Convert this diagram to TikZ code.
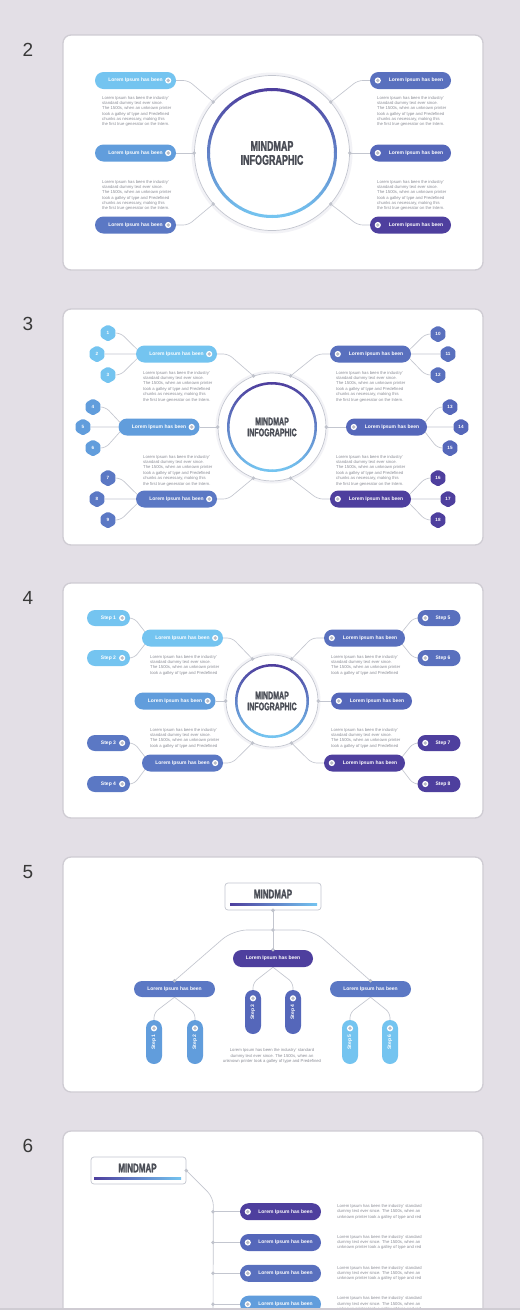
\documentclass[tikz,border=0pt]{standalone}
\usepackage{fontspec}
\setmainfont{Liberation Sans}
\newfontfamily\headfont[FakeStretch=0.64, FakeBold=1.6]{Liberation Sans}
\usepackage{xcolor}
\definecolor{pagebg}{HTML}{E3DFE6}
\definecolor{panelline}{HTML}{CFCCD3}
\definecolor{skyblue}{HTML}{74C4F0}
\definecolor{midblue}{HTML}{619DDC}
\definecolor{steelblue}{HTML}{5B78C4}
\definecolor{slateblue}{HTML}{5970BE}
\definecolor{indigoblue}{HTML}{5567BA}
\definecolor{deeppurple}{HTML}{4E3F9E}
\definecolor{wiregray}{HTML}{C3C6CF}
\definecolor{dotgray}{HTML}{C0C3CC}
\definecolor{icongray}{HTML}{B9BCC6}
\definecolor{desctext}{HTML}{8B8D96}
\definecolor{headtext}{HTML}{4A4D56}
\definecolor{halofill}{HTML}{F2F2F6}
\usetikzlibrary{shapes.misc, shapes.geometric, calc, positioning}
\pgfdeclarelayer{back}
\pgfdeclarelayer{wires}
\pgfsetlayers{back,wires,main}
\newcommand{\loremsix}{Lorem Ipsum has been the industry'\\standard dummy text ever since.\\The 1500s, when an unknown printer\\took a galley of type and Predefined\\chunks as necessary, making this\\the first true generator on the Intern.}
\newcommand{\loremfour}{Lorem Ipsum has been the industry'\\standard dummy text ever since.\\The 1500s, when an unknown printer\\took a galley of type and Predefined}
\newcommand{\loremthree}{Lorem Ipsum has been the industry' standard\\dummy text ever since. The 1500s, when an\\unknown printer took a galley of type and red}
% ring fading from purple (top) to sky blue (bottom): centre, radius, width
\newcommand{\gradring}[3]{%
    \begin{scope}[shift={(#1)}, x=1pt, y=1pt]
        \foreach \a in {0,5,...,355} {
            \pgfmathsetmacro\ringmix{50+50*sin(\a+2.5)}
            \draw[line width=#3, deeppurple!\ringmix!skyblue] (\a:#2) arc[start angle=\a, end angle=\a+5.6, radius=#2];
        }
    \end{scope}}

\begin{document}
\begin{tikzpicture}[x=1pt, y=-1pt,
    panel/.style={draw=panelline, line width=1.3pt, fill=white, rounded corners=8pt},
    pagenum/.style={text=black!78, font=\fontsize{19}{19}\selectfont},
    pill/.style={rounded rectangle, minimum width=81pt, minimum height=17pt, inner sep=0pt, text=white, font=\bfseries\fontsize{5}{5}\selectfont},
    steppill/.style={pill, minimum width=43pt, minimum height=16pt},
    vstep/.style={pill, minimum width=44pt, minimum height=16pt, rotate=90},
    hexbadge/.style={regular polygon, regular polygon sides=6, shape border rotate=30, minimum size=17pt, inner sep=0pt, rounded corners=1.5pt, text=white, font=\bfseries\fontsize{4.6}{5}\selectfont},
    hubring/.style={circle, draw=wiregray, line width=0.7pt, fill=white, inner sep=0pt},
    hubtitle/.style={align=center, text=headtext, inner sep=0pt, font=\headfont\bfseries\fontsize{#1}{#1}\selectfont},
    titlebox/.style={draw=wiregray, line width=0.7pt, fill=white, rounded corners=3pt, minimum width=96pt, minimum height=27pt},
    desc/.style={align=left, text=desctext, inner sep=0pt, font=\fontsize{4.2}{5.35}\selectfont},
    wire/.style={draw=wiregray, line width=0.65pt, rounded corners=5pt},
    jdot/.style={circle, fill=dotgray, inner sep=0pt, minimum size=3.8pt},
    pillicon/.pic={\fill[white] (0,0) circle (3.1pt); \fill[icongray] (0,0) circle (1.9pt);}]

    \useasboundingbox (0,0) rectangle (520,1310);

    % page and panels
    \begin{pgfonlayer}{back}
        \fill[pagebg] (0,0) rectangle (520,1310);
        \draw[panel] (63,35) rectangle (483,270);
        \draw[panel] (63,309) rectangle (483,545);
        \draw[panel] (63,583) rectangle (483,818);
        \draw[panel] (63,857) rectangle (483,1092);
        \draw[panel] (63,1131) rectangle (483,1340);
        \fill[halofill] (272,153) circle (80.5pt);
        \fill[halofill] (272,427) circle (56.5pt);
        \fill[halofill] (272,701) circle (48.5pt);
    \end{pgfonlayer}

    \node[pagenum] (num2) at (28,50) {2};
    \node[pagenum] (num3) at (28,324) {3};
    \node[pagenum] (num4) at (28,598) {4};
    \node[pagenum] (num5) at (28,872) {5};
    \node[pagenum] (num6) at (28,1146) {6};

    % ---- slide 2
    \node[hubring, minimum size=155pt] (hub2) at (272,153) {};
    \gradring{hub2.center}{63.5pt}{3pt}
    \node[hubtitle=14] (title2) at (hub2.center) {MINDMAP\\INFOGRAPHIC};

    \foreach \y/\c [count=\i] in {80.5/skyblue, 153/midblue, 225/steelblue} {
        \node[pill, fill=\c] (p2l\i) at (135.5,\y) {Lorem Ipsum has been\hspace{11pt}};
        \pic at ($(p2l\i.east)+(-8,0)$) {pillicon};
    }
    \foreach \y/\c [count=\i] in {80.5/slateblue, 153/indigoblue, 225/deeppurple} {
        \node[pill, fill=\c] (p2r\i) at (410.5,\y) {\hspace{11pt}Lorem Ipsum has been};
        \pic at ($(p2r\i.west)+(8,0)$) {pillicon};
    }
    \begin{pgfonlayer}{wires}
        \draw[wire] (p2l1.east) -- ++(12,0) -- (hub2.139);
        \draw[wire] (p2l2.east) -- (hub2.west);
        \draw[wire] (p2l3.east) -- ++(12,0) -- (hub2.221);
        \draw[wire] (p2r1.west) -- ++(-12,0) -- (hub2.41);
        \draw[wire] (p2r2.west) -- (hub2.east);
        \draw[wire] (p2r3.west) -- ++(-12,0) -- (hub2.-41);
    \end{pgfonlayer}
    \foreach \a in {139,180,221,41,0,-41} \node[jdot] at (hub2.\a) {};

    \node[desc, anchor=north west] (d2l1) at (102,96) {\loremsix};
    \node[desc, anchor=north west] (d2l2) at (102,180) {\loremsix};
    \node[desc, anchor=north west] (d2r1) at (377,96) {\loremsix};
    \node[desc, anchor=north west] (d2r2) at (377,180) {\loremsix};

    % ---- slide 3
    \node[hubring, minimum size=108pt] (hub3) at (272,427) {};
    \gradring{hub3.center}{43.75pt}{2.5pt}
    \node[hubtitle=11] (title3) at (hub3.center) {MINDMAP\\INFOGRAPHIC};

    \foreach \x/\y/\c [count=\i] in {176.5/354/skyblue, 159/427/midblue, 176.5/499/steelblue} {
        \node[pill, fill=\c] (p3l\i) at (\x,\y) {Lorem Ipsum has been\hspace{11pt}};
        \pic at ($(p3l\i.east)+(-8,0)$) {pillicon};
    }
    \foreach \x/\y/\c [count=\i] in {370.5/354/slateblue, 386.5/427/indigoblue, 370.5/499/deeppurple} {
        \node[pill, fill=\c] (p3r\i) at (\x,\y) {\hspace{11pt}Lorem Ipsum has been};
        \pic at ($(p3r\i.west)+(8,0)$) {pillicon};
    }
    \foreach \n/\x/\y/\c in {1/108/333/skyblue, 2/97/354/skyblue, 3/108/375/skyblue,
        4/93/407/midblue, 5/83/427/midblue, 6/93/448/midblue,
        7/108/478/steelblue, 8/97/499/steelblue, 9/108/520/steelblue,
        10/438/334/slateblue, 11/448/354/slateblue, 12/438/375/slateblue,
        13/450/407/indigoblue, 14/461/427/indigoblue, 15/450/448/indigoblue,
        16/438/478/deeppurple, 17/448/499/deeppurple, 18/438/520/deeppurple}
        \node[hexbadge, fill=\c] (h\n) at (\x,\y) {\n};

    \begin{pgfonlayer}{wires}
        \draw[wire] (p3l1.east) -- ++(11,0) -- (hub3.110);
        \draw[wire] (p3l2.east) -- (hub3.west);
        \draw[wire] (p3l3.east) -- ++(11,0) -- (hub3.250);
        \draw[wire] (p3r1.west) -- ++(-12,0) -- (hub3.70);
        \draw[wire] (p3r2.west) -- (hub3.east);
        \draw[wire] (p3r3.west) -- ++(-12,0) -- (hub3.290);
        \foreach \g/\a/\b/\c in {1/1/2/3, 2/4/5/6, 3/7/8/9} {
            \draw[wire] (h\a.east) -- ++(5,0) -- ($(p3l\g.west)+(6,0)$);
            \draw[wire] (h\b.east) -- (p3l\g.west);
            \draw[wire] (h\c.east) -- ++(5,0) -- ($(p3l\g.west)+(6,0)$);
        }
        \foreach \g/\a/\b/\c in {1/10/11/12, 2/13/14/15, 3/16/17/18} {
            \draw[wire] (h\a.west) -- ++(-5,0) -- ($(p3r\g.east)+(-6,0)$);
            \draw[wire] (h\b.west) -- (p3r\g.east);
            \draw[wire] (h\c.west) -- ++(-5,0) -- ($(p3r\g.east)+(-6,0)$);
        }
    \end{pgfonlayer}
    \foreach \a in {110,180,250,70,0,290} \node[jdot] at (hub3.\a) {};

    \node[desc, anchor=north west] (d3l1) at (143,371) {\loremsix};
    \node[desc, anchor=north west] (d3l2) at (143,455) {\loremsix};
    \node[desc, anchor=north west] (d3r1) at (336,371) {\loremsix};
    \node[desc, anchor=north west] (d3r2) at (336,455) {\loremsix};

    % ---- slide 4
    \node[hubring, minimum size=92pt] (hub4) at (272,701) {};
    \gradring{hub4.center}{35.75pt}{2.5pt}
    \node[hubtitle=11] (title4) at (hub4.center) {MINDMAP\\INFOGRAPHIC};

    \foreach \x/\y/\c [count=\i] in {182.5/638/skyblue, 175/701/midblue, 182.5/763/steelblue} {
        \node[pill, fill=\c] (p4l\i) at (\x,\y) {Lorem Ipsum has been\hspace{11pt}};
        \pic at ($(p4l\i.east)+(-8,0)$) {pillicon};
    }
    \foreach \x/\y/\c [count=\i] in {364.5/638/slateblue, 371.5/701/indigoblue, 364.5/763/deeppurple} {
        \node[pill, fill=\c] (p4r\i) at (\x,\y) {\hspace{11pt}Lorem Ipsum has been};
        \pic at ($(p4r\i.west)+(8,0)$) {pillicon};
    }
    \foreach \n/\y/\c/\p in {1/618/skyblue/p4l1, 2/658/skyblue/p4l1, 3/743/steelblue/p4l3, 4/784/steelblue/p4l3} {
        \node[steppill, fill=\c] (st\n) at (108.5,\y) {Step \n\hspace{8pt}};
        \pic at ($(st\n.east)+(-8,0)$) {pillicon};
        \begin{pgfonlayer}{wires}
            \draw[wire] (st\n.east) -- ++(4,0) -- ($(\p.west)+(8,0)$);
        \end{pgfonlayer}
    }
    \foreach \n/\y/\c/\p in {5/618/slateblue/p4r1, 6/658/slateblue/p4r1, 7/743/deeppurple/p4r3, 8/784/deeppurple/p4r3} {
        \node[steppill, fill=\c] (st\n) at (439,\y) {\hspace{8pt}Step \n};
        \pic at ($(st\n.west)+(8,0)$) {pillicon};
        \begin{pgfonlayer}{wires}
            \draw[wire] (st\n.west) -- ++(-4,0) -- ($(\p.east)+(-8,0)$);
        \end{pgfonlayer}
    }
    \begin{pgfonlayer}{wires}
        \draw[wire] (p4l1.east) -- ++(9,0) -- (hub4.115);
        \draw[wire] (p4l2.east) -- (hub4.west);
        \draw[wire] (p4l3.east) -- ++(9,0) -- (hub4.245);
        \draw[wire] (p4r1.west) -- ++(-12,0) -- (hub4.65);
        \draw[wire] (p4r2.west) -- (hub4.east);
        \draw[wire] (p4r3.west) -- ++(-12,0) -- (hub4.295);
    \end{pgfonlayer}
    \foreach \a in {115,180,245,65,0,295} \node[jdot] at (hub4.\a) {};

    \node[desc, anchor=north west] (d4l1) at (150,655) {\loremfour};
    \node[desc, anchor=north west] (d4l2) at (150,728) {\loremfour};
    \node[desc, anchor=north west] (d4r1) at (331,655) {\loremfour};
    \node[desc, anchor=north west] (d4r2) at (331,728) {\loremfour};

    % ---- slide 5
    \node[titlebox] (t5) at (273,896.5) {};
    \node[hubtitle=12.5] (t5txt) at (273,894) {MINDMAP};
    \shade[left color=deeppurple, right color=skyblue] (230,903.2) rectangle (317,905);
    \coordinate (j5) at (273,930);
    \node[pill, fill=deeppurple, minimum width=80pt] (m5) at (273,958.5) {Lorem Ipsum has been};
    \node[pill, fill=steelblue, minimum height=16pt] (a5) at (174.5,989) {Lorem Ipsum has been};
    \node[pill, fill=steelblue, minimum height=16pt] (b5) at (370.5,989) {Lorem Ipsum has been};
    \begin{pgfonlayer}{wires}
        \draw[wire] (t5.south) -- (m5.north);
        \draw[wire, rounded corners=14pt] (a5.north) -- ($(j5)+(-40,0)$) -- ($(j5)+(40,0)$) -- (b5.north);
    \end{pgfonlayer}
    \foreach \n/\x/\y/\c/\p in {1/154/1042/midblue/a5, 2/195/1042/midblue/a5, 3/253/1012/indigoblue/m5,
        4/293/1012/indigoblue/m5, 5/350/1042/skyblue/b5, 6/390/1042/skyblue/b5} {
        \node[vstep, fill=\c] (v\n) at (\x,\y) {Step \n\hspace{10pt}};
        \pic at ($(v\n.east)+(0,8.5)$) {pillicon};
        \begin{pgfonlayer}{wires}
            \draw[wire] (\p.south) -- ($(v\n.east)+(0,-7)$) -- (v\n.east);
        \end{pgfonlayer}
    }
    \node[jdot] at (t5.south) {};
    \node[jdot] at (j5) {};
    \node[jdot] at (m5.north) {};
    \node[jdot] at (a5.north) {};
    \node[jdot] at (b5.north) {};
    \node[desc, align=center] (c5) at (272,1056) {Lorem Ipsum has been the industry' standard\\dummy text ever since. The 1500s, when an\\unknown printer took a galley of type and Predefined};

    % ---- slide 6
    \node[titlebox, minimum width=95pt] (t6) at (138.5,1170.5) {};
    \node[hubtitle=12.5] (t6txt) at (137.5,1168) {MINDMAP};
    \shade[left color=deeppurple, right color=skyblue] (94,1177.2) rectangle (181,1179);
    \coordinate (spine6) at (213,1330);
    \begin{pgfonlayer}{wires}
        \draw[wire, rounded corners=8pt] (t6.east) -- ++(27,27) -- (spine6);
    \end{pgfonlayer}
    \node[jdot] at (t6.east) {};
    \foreach \y/\c [count=\i] in {1211.7/deeppurple, 1242.5/indigoblue, 1273.3/slateblue, 1304.2/midblue} {
        \node[pill, fill=\c] (q\i) at (280.5,\y) {\hspace{10pt}Lorem Ipsum has been};
        \pic at ($(q\i.west)+(8,0)$) {pillicon};
        \coordinate (k\i) at (213,\y);
        \begin{pgfonlayer}{wires}
            \draw[wire] (k\i) -- (q\i.west);
        \end{pgfonlayer}
        \node[jdot] at (k\i) {};
        \node[desc, anchor=west] (e\i) at ($(q\i.east)+(16,0)$) {\loremthree};
    }

    \fill[panelline] (0,1307.5) rectangle (520,1310);
\end{tikzpicture}
\end{document}
